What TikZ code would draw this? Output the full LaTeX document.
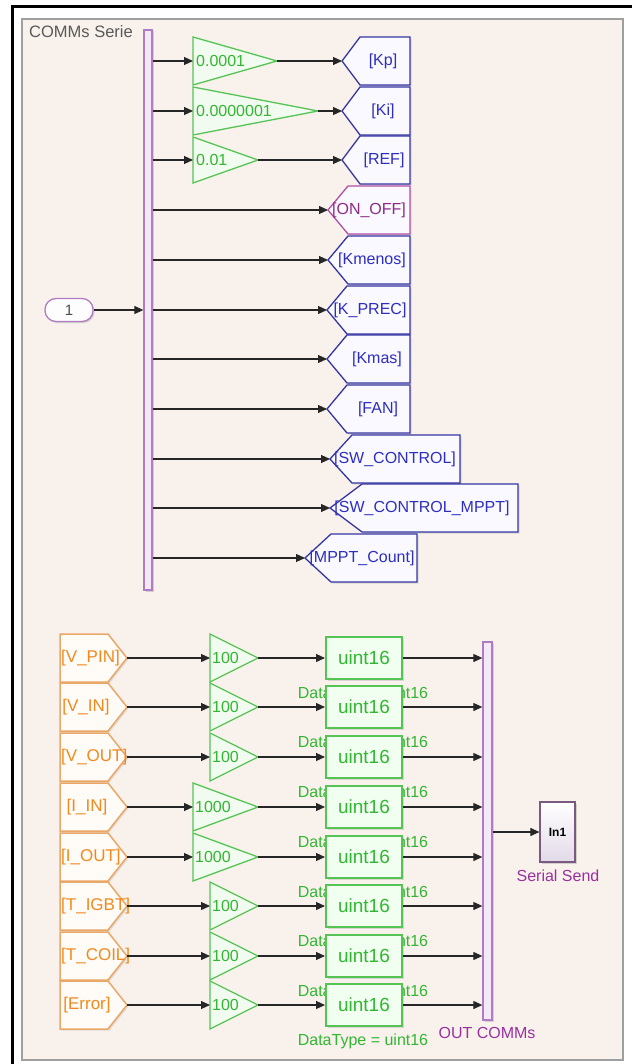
\documentclass[tikz,border=0pt]{standalone}
\usepackage{fontspec}
\setmainfont{Liberation Sans}
\usetikzlibrary{arrows.meta,shadows}
\newcommand{\myfs}[1]{\fontsize{#1pt}{#1pt}\selectfont}
\definecolor{bg}{HTML}{F9F2EC}
\definecolor{gainbd}{HTML}{55C455}
\definecolor{gaintx}{HTML}{33B633}
\definecolor{gainfill}{HTML}{F1FBEF}
\definecolor{gotobd}{HTML}{3535A5}
\definecolor{gototx}{HTML}{2E2EC0}
\definecolor{onoffbd}{HTML}{B050A8}
\definecolor{onofftx}{HTML}{8E2A86}
\definecolor{frombd}{HTML}{E9A868}
\definecolor{fromtx}{HTML}{F08A20}
\definecolor{busbd}{HTML}{B07CC4}
\definecolor{busfill}{HTML}{F5E8F7}
\definecolor{lbl}{HTML}{9A30A0}
\definecolor{inbd}{HTML}{7A5A82}
\definecolor{inbot}{HTML}{E2DAE8}
\tikzset{
  wire/.style={draw=black!85, line width=1.1pt, -{Triangle[length=9pt,width=8pt]}},
  gainshape/.style={draw=gainbd, fill=gainfill, line width=1.3pt},
  gaintext/.style={text=gaintx, font=\myfs{16}, inner sep=0pt, anchor=west},
  gotoshape/.style={fill=white!92!blue!30!white, line width=1.3pt, drop shadow={shadow xshift=1.5pt, shadow yshift=-1.5pt, opacity=0.25}},
  gototext/.style={font=\myfs{16}, inner sep=0pt},
  fromshape/.style={draw=frombd, fill=white!97!orange, line width=1.5pt, drop shadow={shadow xshift=1.5pt, shadow yshift=-1.5pt, opacity=0.2}},
  fromtext/.style={text=fromtx, font=\myfs{17}, inner sep=0pt},
  bus/.style={draw=busbd, fill=busfill, line width=1.3pt, inner sep=0pt, drop shadow={shadow xshift=1.5pt, shadow yshift=-1.5pt, opacity=0.3}},
  conv/.style={draw=gainbd, fill=white!94!green, line width=2pt, minimum width=76pt, minimum height=42pt, inner sep=0pt, text=gaintx, font=\myfs{19}, drop shadow={shadow xshift=1.5pt, shadow yshift=-1.5pt, opacity=0.25}},
  dtlabel/.style={text=gaintx, font=\myfs{16}, inner sep=0pt},
  blklabel/.style={text=lbl, font=\myfs{16}, inner sep=0pt}
}
\begin{document}
\begin{tikzpicture}[x=1pt,y=-1pt]
\useasboundingbox (0,0) rectangle (632,1064);
\fill[white] (0,0) rectangle (632,1064);
\fill[bg] (22,19) rectangle (623,1060);
\draw[gray!75, line width=1.6pt] (22,19) rectangle (623,1060);
\draw[black, line width=2.4pt] (12.5,1064) -- (12.5,6.5) -- (632,6.5);
\node[anchor=west, text=black!65, font=\myfs{16.5}, inner sep=0pt] (title) at (29,32) {COMMs Serie};

% ---------- top section ----------
\node[bus, minimum width=8pt, minimum height=560pt] (demux) at (148,310) {};
\node[draw=busbd, fill=white!90!busfill, line width=1.3pt, rounded corners=11pt, minimum width=48pt, minimum height=23pt, inner sep=0pt, font=\myfs{15}, text=black!70, drop shadow={shadow xshift=1.5pt, shadow yshift=-1.5pt, opacity=0.3}] (inport) at (69,310) {1};
\draw[wire] (inport.east) -- (demux.west |- inport.east);

% gains
\foreach \i/\yt/\yb/\ap/\txt in {0/37/85/277/0.0001, 1/87/135/318/0.0000001, 2/137/183/258/0.01}{
  \draw[gainshape] (193,\yt) -- (\ap,{(\yt+\yb)/2}) -- (193,\yb) -- cycle;
  \coordinate (gin\i) at (193,{(\yt+\yb)/2});
  \coordinate (gout\i) at (\ap,{(\yt+\yb)/2});
  \node[gaintext] (gtxt\i) at (196,{(\yt+\yb)/2}) {\txt};
}

% gotos
\foreach \y/\tip/\ind/\r/\tc/\lab/\bd/\tx [count=\n from 0] in {
  61/342/18/410/383/{[Kp]}/gotobd/gototx,
  111/342/18/410/383/{[Ki]}/gotobd/gototx,
  160/342/18/410/384/{[REF]}/gotobd/gototx,
  210/328/20/410/369/{[ON\_OFF]}/onoffbd/onofftx,
  260/328/20/410/372/{[Kmenos]}/gotobd/gototx,
  310/327/20/410/370/{[K\_PREC]}/gotobd/gototx,
  359/327/20/410/377/{[Kmas]}/gotobd/gototx,
  409/327/20/410/378/{[FAN]}/gotobd/gototx,
  459/330/22/460/395/{[SW\_CONTROL]}/gotobd/gototx,
  508/330/32/518/422/{[SW\_CONTROL\_MPPT]}/gotobd/gototx,
  558/305/26/417/362/{[MPPT\_Count]}/gotobd/gototx}{
  \draw[gotoshape, draw=\bd] (\tip,\y) -- (\tip+\ind,\y-24) -- (\r,\y-24) -- (\r,\y+24) -- (\tip+\ind,\y+24) -- cycle;
  \coordinate (goto\n) at (\tip,\y);
  \node[gototext, text=\tx] (gotolab\n) at (\tc,\y) {\lab};
}

\foreach \i in {0,1,2}{
  \draw[wire] (demux.east |- gin\i) -- (gin\i);
  \draw[wire] (gout\i) -- (goto\i);
}
\foreach \i in {3,...,10}{
  \draw[wire] (demux.east |- goto\i) -- (goto\i);
}

% ---------- bottom section ----------
\foreach \y [count=\n from 0] in {658,707,757,807,857,906,956,1005}{
  \node[dtlabel] (dt\n) at (363,\y+36) {DataType = uint16};
}
\foreach \y/\lab/\anc/\fx/\gl/\gt [count=\n from 0] in {
  658/{[V\_PIN]}/west/61/210/100,
  707/{[V\_IN]}/center/86/210/100,
  757/{[V\_OUT]}/west/61/210/100,
  807/{[I\_IN]}/center/87/193/1000,
  857/{[I\_OUT]}/west/61/193/1000,
  906/{[T\_IGBT]}/west/61/210/100,
  956/{[T\_COIL]}/west/61/210/100,
  1005/{[Error]}/center/87/210/100}{
  \draw[fromshape] (60,\y-24) -- (108,\y-24) -- (127,\y) -- (108,\y+24) -- (60,\y+24) -- cycle;
  \coordinate (from\n) at (127,\y);
  \node[fromtext, anchor=\anc] (fromlab\n) at (\fx,\y) {\lab};
  \draw[gainshape] (\gl,\y-24) -- (258,\y) -- (\gl,\y+24) -- cycle;
  \coordinate (bgin\n) at (\gl,\y);
  \coordinate (bgout\n) at (258,\y);
  \node[gaintext] (bgtxt\n) at (\gl+2,\y) {\gt};
  \node[conv] (cv\n) at (364,\y) {uint16};
}

\node[bus, minimum width=9pt, minimum height=378pt] (mux) at (487.5,831) {};
\node[draw=inbd, top color=white, bottom color=inbot, line width=1.2pt, minimum width=35pt, minimum height=60pt, inner sep=0pt, font=\bfseries\myfs{12}, drop shadow={shadow xshift=1.5pt, shadow yshift=-1.5pt, opacity=0.3}] (serial) at (557.5,832) {In1};
\node[blklabel] (serlab) at (558,876) {Serial Send};
\node[blklabel] (outlab) at (487,1033) {OUT COMMs};

\foreach \n in {0,...,7}{
  \draw[wire] (from\n) -- (bgin\n);
  \draw[wire] (bgout\n) -- (cv\n.west);
  \draw[wire] (cv\n.east) -- (mux.west |- cv\n.east);
}
\draw[wire] (mux.east |- serial.west) -- (serial.west);
\end{tikzpicture}
\end{document}
